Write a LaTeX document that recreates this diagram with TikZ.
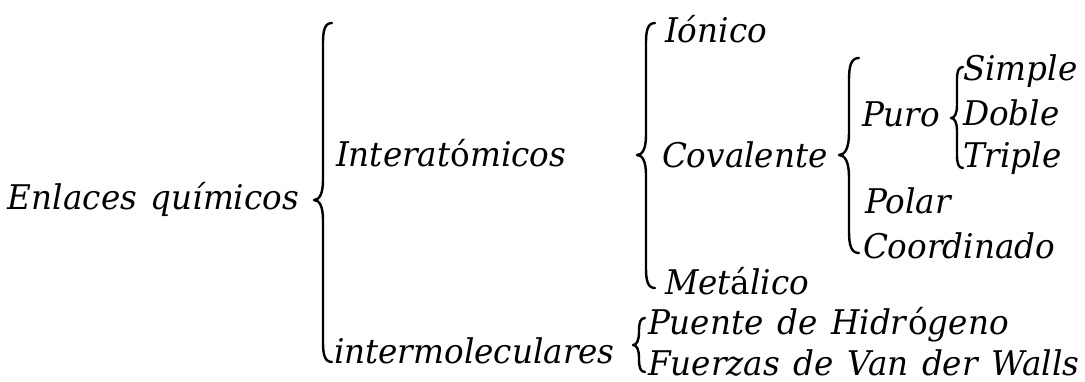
\documentclass[tikz,border=0pt]{standalone}
\usepackage{fontspec}
\setmainfont[FakeStretch=0.96]{DejaVu Serif}
\usetikzlibrary{calc}
\newcommand{\termfont}{\fontsize{34}{40}\selectfont\itshape\spaceskip=0.4em\relax}
% curly brace: #1 x of the stem, #2 top y, #3 tip y, #4 bottom y, #5 reach of the hooks
\newcommand{\cbrace}[5]{%
  \draw[bracestroke]
    (#1+#5,#2) .. controls (#1+0.2*#5,#2) and (#1,#2+0.8*#5) .. (#1,#2+2.2*#5)
    -- (#1,#3-2.2*#5) .. controls (#1,#3-0.7*#5) and (#1-0.4*#5,#3) .. (#1-#5,#3)
    .. controls (#1-0.4*#5,#3) and (#1,#3+0.7*#5) .. (#1,#3+2.2*#5)
    -- (#1,#4-2.2*#5) .. controls (#1,#4-0.8*#5) and (#1+0.2*#5,#4) .. (#1+#5,#4);}
\begin{document}
\begin{tikzpicture}[x=1pt,y=-1pt,
  term/.style={anchor=base west,inner sep=0pt,outer sep=0pt,font=\termfont},
  bracestroke/.style={line width=2.4pt,line cap=round,line join=round}]
\useasboundingbox[fill=white] (0,0) rectangle (1085,381);
% labels
\node[term] (enl) at (8,209) {Enlaces químicos};
\node[term] (inter) at (336,166) {Interat\textup{ó}micos};
\node[term] (intermol) at (334,363) {intermoleculares};
\node[term] (ion) at (665,42) {Iónico};
\node[term] (cov) at (662,167) {Covalente};
\node[term] (met) at (665,294) {Met\textup{á}lico};
\node[term] (puente) at (648,334) {Puente de Hidr\textup{ó}geno};
\node[term] (fuerzas) at (648,375) {Fuerzas de Van der Walls};
\node[term] (puro) at (862,126) {Puro};
\node[term] (simple) at (963,80) {Simple};
\node[term] (doble) at (963,125) {Doble};
\node[term] (triple) at (963,167) {Triple};
\node[term] (polar) at (865,213) {Polar};
\node[term] (coord) at (863,258) {Coordinado};
% braces
\cbrace{323}{23}{200}{362}{9}
\cbrace{646}{23}{155}{288}{9}
\cbrace{639}{318}{345}{372}{6}
\cbrace{849}{58}{155}{253}{10}
\cbrace{957}{67}{118}{168}{6}
\end{tikzpicture}
\end{document}
